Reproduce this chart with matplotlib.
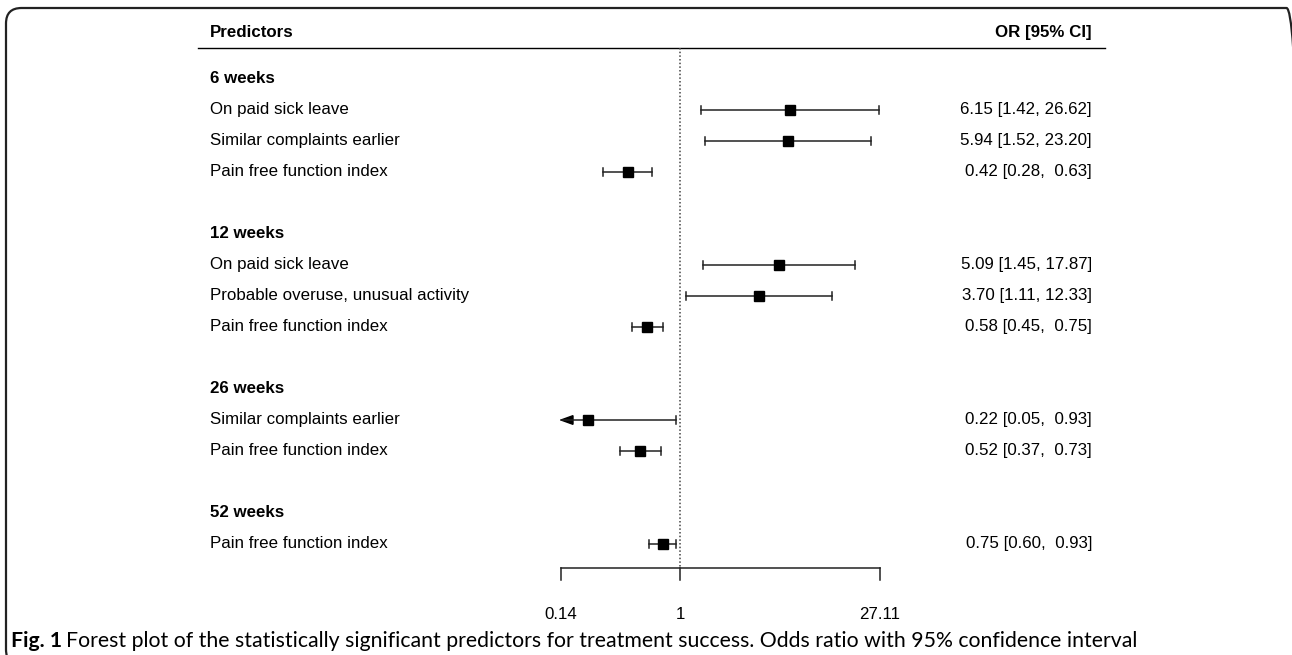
import numpy as np
import matplotlib.pyplot as plt
from matplotlib.patches import FancyBboxPatch, Polygon
from matplotlib.transforms import blended_transform_factory

# Data
groups = ["6 weeks", "12 weeks", "26 weeks", "52 weeks"]
predictors = [
    ["On paid sick leave", "Similar complaints earlier", "Pain free function index"],
    ["On paid sick leave", "Probable overuse, unusual activity", "Pain free function index"],
    ["Similar complaints earlier", "Pain free function index"],
    ["Pain free function index"],
]
odds = [[6.15, 5.94, 0.42], [5.09, 3.70, 0.58], [0.22, 0.52], [0.75]]
ci_low = [[1.42, 1.52, 0.28], [1.45, 1.11, 0.45], [0.05, 0.37], [0.60]]
ci_high = [[26.62, 23.20, 0.63], [17.87, 12.33, 0.75], [0.93, 0.73], [0.93]]
axis_ticks = [0.14, 1, 27.11]
axis_labels = ["0.14", "1", "27.11"]

plt.rcParams["font.family"] = ["Liberation Sans", "DejaVu Sans"]

W, H = 1292, 655
fig = plt.figure(figsize=(W / 100, H / 100), dpi=100)
ax = fig.add_axes([0, 0, 1, 1])
ax.set_xscale("log")

# pixel mapping: 0.14 -> 561 px, 27.11 -> 880 px
px_per_ln = (880 - 561) / np.log(27.11 / 0.14)
x_left = np.exp(np.log(0.14) - 561 / px_per_ln)
x_right = np.exp(np.log(0.14) + (W - 561) / px_per_ln)
ax.set_xlim(x_left, x_right)
# rows: row 0 at 79 px, 31 px spacing
row_h = 31.0
ax.set_ylim((H - 79) / row_h, -79 / row_h)
ax.axis("off")

trans = blended_transform_factory(ax.transAxes, ax.transData)
fs = 12.2
lab_x = 210 / W
val_x = 1092 / W

# frame around the figure
fig.patches.append(FancyBboxPatch((6 / W, -10 / H), (W + 10 - 6) / W, (H + 2) / H,
                                  boxstyle="round,pad=0,rounding_size=0.012",
                                  transform=fig.transFigure, fill=False,
                                  edgecolor="#222222", linewidth=1.6,
                                  mutation_aspect=W / H))

# header
ax.text(lab_x, -1.5, "Predictors", transform=trans, fontsize=fs,
        fontweight="bold", va="center", ha="left")
ax.text(val_x, -1.5, "OR [95% CI]", transform=trans, fontsize=fs,
        fontweight="bold", va="center", ha="right")
ax.plot([198 / W, 1105 / W], [-1.0, -1.0], transform=trans, color="black", lw=1.0)

axis_row = 15.77
ax.plot([1, 1], [-1.0, axis_row], color="#444444", lw=1.1, ls=(0, (1, 1.4)))

cap = 0.13
arrow_len = np.exp(12 / px_per_ln)
r = 0
for g, name in enumerate(groups):
    ax.text(lab_x, r, name, transform=trans, fontsize=fs, fontweight="bold",
            va="center", ha="left")
    r += 1
    for p, o, lo, hi in zip(predictors[g], odds[g], ci_low[g], ci_high[g]):
        ax.text(lab_x, r, p, transform=trans, fontsize=fs, va="center", ha="left")
        txt = f"{o:.2f} [{lo:.2f}, {hi:5.2f}]"
        ax.text(val_x, r, txt, transform=trans, fontsize=fs, va="center", ha="right")
        lo_d = max(lo, axis_ticks[0])
        hi_d = min(hi, axis_ticks[-1])
        ax.plot([lo_d, hi_d], [r, r], color="#222222", lw=1.1)
        if lo < axis_ticks[0]:
            tri = Polygon([[lo_d, r], [lo_d * arrow_len, r - 0.14],
                           [lo_d * arrow_len, r + 0.14]], closed=True,
                          color="black")
            ax.add_patch(tri)
        else:
            ax.plot([lo_d, lo_d], [r - cap, r + cap], color="#222222", lw=1.1)
        ax.plot([hi_d, hi_d], [r - cap, r + cap], color="#222222", lw=1.1)
        ax.plot([o], [r], marker="s", ms=6.8, color="black", mec="black")
        r += 1
    r += 1

# bottom axis
ax.plot([axis_ticks[0], axis_ticks[-1]], [axis_row, axis_row], color="#222222", lw=1.1)
for t, lab in zip(axis_ticks, axis_labels):
    ax.plot([t, t], [axis_row, axis_row + 0.4], color="#222222", lw=1.1)
    ax.text(t, axis_row + 1.52, lab, fontsize=fs, ha="center", va="center")

# caption
cap_font = ["Lato", "DejaVu Sans"]
fig.text(11 / W, 1 - 641 / H, "Fig. 1", fontsize=15.3, fontweight="bold",
         family=cap_font, va="center", ha="left")
fig.text(66 / W, 1 - 641 / H,
         "Forest plot of the statistically significant predictors for treatment success. "
         "Odds ratio with 95% confidence interval",
         fontsize=15.3, family=cap_font, va="center", ha="left")

fig.savefig("out.png", dpi=100)
